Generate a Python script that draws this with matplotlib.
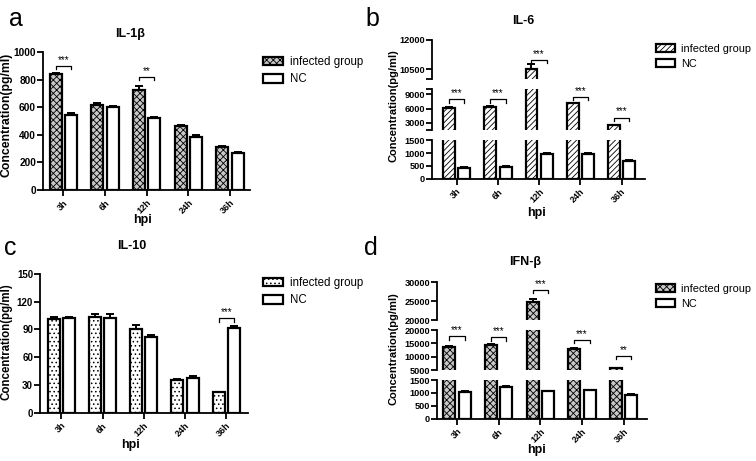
import matplotlib

matplotlib.use("Agg")
import matplotlib.pyplot as plt
import numpy as np

plt.rcParams["font.family"] = ["Liberation Sans", "DejaVu Sans"]
plt.rcParams["hatch.linewidth"] = 0.6

# ---- data ----
hours = ["3h", "6h", "12h", "24h", "36h"]

il1b_inf = [840, 615, 725, 462, 312]
il1b_inf_err = [10, 15, 30, 8, 5]
il1b_nc = [540, 600, 520, 385, 270]
il1b_nc_err = [20, 8, 8, 15, 4]
il1b_sig_idx = [0, 2]
il1b_sig_txt = ["***", "**"]
il1b_sig_y = [900, 820]

il6_inf = [6100, 6400, 10500, 7100, 2550]
il6_inf_err = [120, 150, 280, 120, 80]
il6_nc = [430, 470, 970, 960, 690]
il6_nc_err = [20, 25, 30, 30, 40]
il6_sig_idx = [0, 1, 2, 3, 4]
il6_sig_txt = ["***", "***", "***", "***", "***"]
il6_sig_y = [8000, 8000, 11000, 8500, 4100]

il10_inf = [101, 104, 90, 35, 22]
il10_inf_err = [2.5, 2.5, 4.5, 1.5, 0.5]
il10_nc = [102, 102, 82, 38, 92]
il10_nc_err = [2, 5, 2, 2, 2]
il10_sig_idx = [4]
il10_sig_txt = ["***"]
il10_sig_y = [102]

ifn_inf = [13800, 14200, 24900, 12800, 5600]
ifn_inf_err = [300, 400, 800, 500, 100]
ifn_nc = [1050, 1220, 1060, 1100, 930]
ifn_nc_err = [20, 40, 15, 25, 20]
ifn_sig_idx = [0, 1, 2, 3, 4]
ifn_sig_txt = ["***", "***", "***", "***", "**"]
ifn_sig_y = [17700, 17200, 28000, 16300, 10300]

W, H = 756, 461
OFF, BW = 0.185, 0.29


def box(x0, y_top, x1, y_bot):
    return [x0 / W, 1 - y_bot / H, (x1 - x0) / W, (y_bot - y_top) / H]


def panel(fig, boxes, ranges, ticks, tlabels, inf, inf_err, nc, nc_err,
          face, hatch, sig_idx, sig_txt, sig_y, xlim, fs):
    """boxes/ranges listed from the bottom segment upwards (broken y axis)."""
    x = np.arange(len(hours))
    axes = []
    for k, (bx, (lo, hi), tk, tl) in enumerate(zip(boxes, ranges, ticks, tlabels)):
        ax = fig.add_axes(box(*bx))
        ax.bar(x - OFF, inf, BW, color=face, edgecolor="black", hatch=hatch,
               linewidth=1.6, label="infected group")
        ax.bar(x + OFF, nc, BW, color="white", edgecolor="black",
               linewidth=1.6, label="NC")
        for xs, v, e in ((x - OFF, inf, inf_err), (x + OFF, nc, nc_err)):
            ax.errorbar(xs, v, yerr=[np.zeros(len(v)), e], fmt="none",
                        ecolor="black", elinewidth=1.4, capsize=3, capthick=1.4)
        ax.set_ylim(lo, hi)
        ax.set_xlim(*xlim)
        ax.set_yticks(tk)
        ax.set_yticklabels(tl, fontsize=fs, fontweight="bold")
        for s in ("top", "right"):
            ax.spines[s].set_visible(False)
        ax.spines["left"].set_linewidth(1.3)
        ax.tick_params(axis="y", direction="out", length=4, width=1.3, pad=1)
        if k == 0:
            ax.spines["bottom"].set_linewidth(1.3)
            ax.set_xticks(x)
            ax.set_xticklabels(hours, rotation=45, ha="right",
                               rotation_mode="anchor", fontsize=6.5,
                               fontweight="bold")
            ax.tick_params(axis="x", direction="out", length=4, width=1.3, pad=2)
        else:
            ax.spines["bottom"].set_visible(False)
            ax.set_xticks([])
        ax.patch.set_alpha(0)
        axes.append(ax)

    for i, t, y in zip(sig_idx, sig_txt, sig_y):
        k = next(j for j, (lo, hi) in enumerate(ranges) if lo <= y <= hi)
        ax = axes[k]
        lo, hi = ranges[k]
        bx = boxes[k]
        leg = (hi - lo) * 3.5 / (bx[3] - bx[1])
        ax.plot([i - OFF, i - OFF, i + OFF, i + OFF], [y - leg, y, y, y - leg],
                color="black", lw=0.9)
        ax.text(i, y + leg * 0.3, t, ha="center", va="bottom", fontsize=7)
    return axes


fig = plt.figure(figsize=(W / 100, H / 100), dpi=100)

# a: IL-1beta
ax_a = panel(fig, [(43, 52, 250, 190)], [(0, 1000)],
             [[0, 200, 400, 600, 800, 1000]],
             [["0", "200", "400", "600", "800", "1000"]],
             il1b_inf, il1b_inf_err, il1b_nc, il1b_nc_err,
             "#c8c8c8", "xxxxx", il1b_sig_idx, il1b_sig_txt, il1b_sig_y,
             (-0.49, 4.48), 7.3)

# b: IL-6 (broken axis)
ax_b = panel(fig,
             [(432, 140.3, 645, 178.7), (432, 89.5, 645, 129.9), (432, 40, 645, 79.3)],
             [(0, 1500), (1500, 10000), (10000, 12000)],
             [[0, 500, 1000, 1500], [1500, 3000, 6000, 9000, 10000], [10000, 10500, 12000]],
             [["0", "500", "1000", "1500"], ["", "3000", "6000", "9000", ""],
              ["", "10500", "12000"]],
             il6_inf, il6_inf_err, il6_nc, il6_nc_err,
             "white", "//////", il6_sig_idx, il6_sig_txt, il6_sig_y,
             (-0.6, 4.57), 6.6)

# c: IL-10
ax_c = panel(fig, [(40, 274, 248, 412.7)], [(0, 150)],
             [[0, 30, 60, 90, 120, 150]],
             [["0", "30", "60", "90", "120", "150"]],
             il10_inf, il10_inf_err, il10_nc, il10_nc_err,
             "white", "....", il10_sig_idx, il10_sig_txt, il10_sig_y,
             (-0.52, 4.53), 7)

# d: IFN-beta (broken axis)
ax_d = panel(fig,
             [(437, 380, 647, 418.7), (437, 330, 647, 370), (437, 282.3, 647, 320)],
             [(0, 1500), (5000, 20000), (20000, 30000)],
             [[0, 500, 1000, 1500], [5000, 10000, 15000, 20000], [20000, 25000, 30000]],
             [["0", "500", "1000", "1500"], ["5000", "10000", "15000", "20000"],
              ["20000", "25000", "30000"]],
             ifn_inf, ifn_inf_err, ifn_nc, ifn_nc_err,
             "#c8c8c8", "xxxxx", ifn_sig_idx, ifn_sig_txt, ifn_sig_y,
             (-0.48, 4.56), 6.6)

# titles, panel letters, axis labels
for lx, ly, letter in ((16, 19, "a"), (372, 19, "b"), (10, 248, "c"), (371, 248, "d")):
    fig.text(lx / W, 1 - ly / H, letter, fontsize=18, ha="center", va="center")
for tx, ty, title in ((130, 34, "IL-1β"), (523, 21, "IL-6"), (132, 246, "IL-10"), (525, 262, "IFN-β")):
    fig.text(tx / W, 1 - ty / H, title, fontsize=9, fontweight="bold", ha="center", va="center")
for hx, hy in ((143, 220), (536, 213), (130, 445), (536, 450)):
    fig.text(hx / W, 1 - hy / H, "hpi", fontsize=9, fontweight="bold", ha="center", va="center")
for yx, yy, fs in ((7, 115, 8.8), (393, 106, 8), (7, 342, 8.3), (393, 349, 8)):
    fig.text(yx / W, 1 - yy / H, "Concentration(pg/ml)", fontsize=fs, fontweight="bold",
             rotation=90, ha="center", va="center")

# legends
for axes, lx, ly, fs in ((ax_a, 263, 56, 8.3), (ax_b, 656, 44, 7.9),
                         (ax_c, 263, 277, 8.3), (ax_d, 656, 284, 7.9)):
    h, l = axes[0].get_legend_handles_labels()
    fig.legend(h, l, loc="upper left", bbox_to_anchor=(lx / W, 1 - ly / H),
               frameon=False, fontsize=fs, handlelength=1.7, handleheight=0.8,
               handletextpad=0.6, labelspacing=0.45, borderpad=0, borderaxespad=0)

fig.savefig("out.png", dpi=100)
